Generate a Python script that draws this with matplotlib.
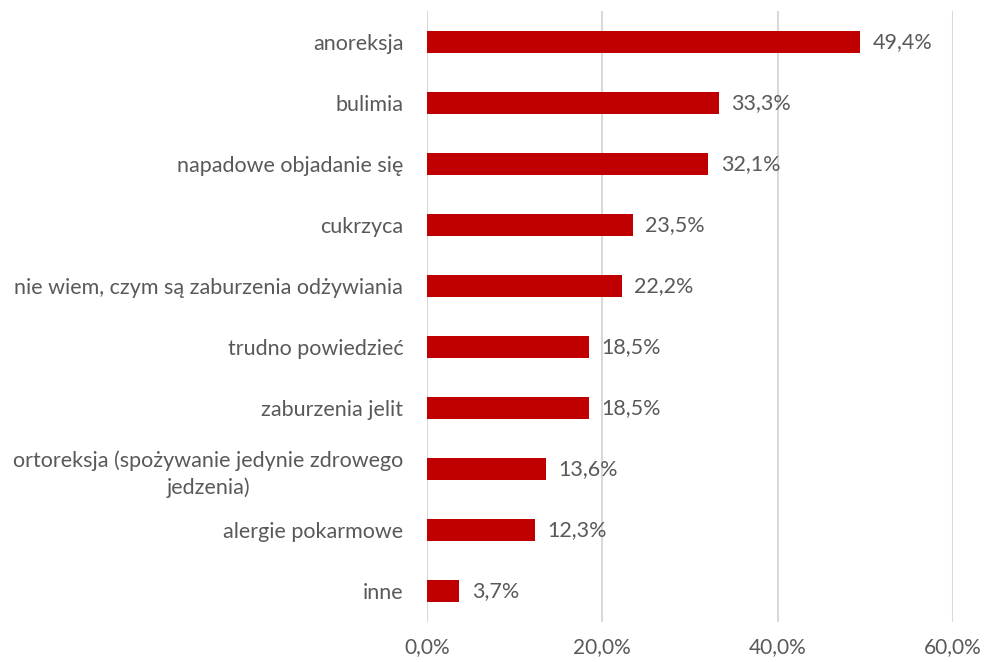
import numpy as np
import matplotlib.pyplot as plt

kategorie = ['anoreksja', 'bulimia', 'napadowe objadanie się', 'cukrzyca',
             'nie wiem, czym są zaburzenia odżywiania', 'trudno powiedzieć',
             'zaburzenia jelit', 'ortoreksja (spożywanie jedynie zdrowego\njedzenia)',
             'alergie pokarmowe', 'inne']
wartosci = [49.4, 33.3, 32.1, 23.5, 22.2, 18.5, 18.5, 13.6, 12.3, 3.7]
x_ticks = [0, 20, 40, 60]

plt.rcParams['font.family'] = ['Lato', 'DejaVu Sans']

szary = '#595959'
fig = plt.figure(figsize=(9.86, 6.62), dpi=100)
ax = fig.add_axes([0.433, 0.0604, 0.5335, 0.9226])

y = np.arange(len(kategorie))
ax.barh(y, wartosci, height=0.36, color='#C00000', zorder=3)
for yi, v in zip(y, wartosci):
    ax.text(v + 1.4, yi, f'{v:.1f}%'.replace('.', ','), va='center', ha='left',
            fontsize=15.5, color=szary)

ax.set_xlim(0, 60)
ax.set_ylim(len(kategorie) - 0.5, -0.5)
ax.set_yticks(y)
ax.set_yticklabels(kategorie, fontsize=15.5, color=szary, multialignment='center',
                   linespacing=1.35)
ax.set_xticks(x_ticks)
ax.set_xticklabels([f'{t:.1f}%'.replace('.', ',') for t in x_ticks], fontsize=15, color=szary)
ax.tick_params(axis='both', length=0)
ax.tick_params(axis='y', pad=17)
ax.tick_params(axis='x', pad=11)
ax.grid(axis='x', color='#D9D9D9', linewidth=1.5, zorder=0)
for s in ax.spines.values():
    s.set_visible(False)

plt.savefig('out.png', dpi=100)
